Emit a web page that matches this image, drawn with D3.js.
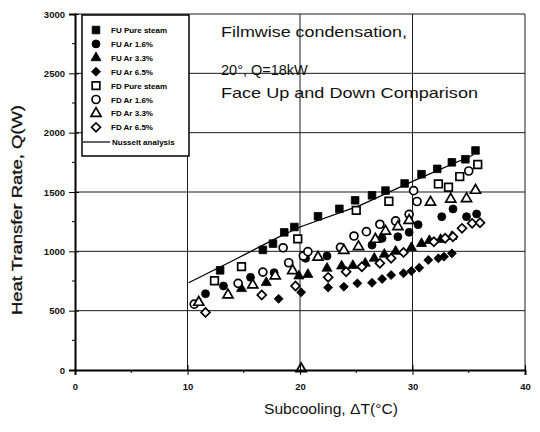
<!DOCTYPE html>
<html>
<head>
<meta charset="utf-8">
<script src="https://cdnjs.cloudflare.com/ajax/libs/d3/7.8.5/d3.min.js"></script>
<style>
  body { margin: 0; background: #fff; }
  svg { display: block; font-family: Arial, "Liberation Sans", sans-serif; }
</style>
</head>
<body>
<svg id="chart" width="540" height="432"></svg>
<script>
// values: [subcooling dT (C), Q (W)]
const fuPure = [[12.9,840],[16.7,1012],[17.6,1065],[18.6,1160],[19.5,1205],[21.6,1295],[23.5,1358],[24.9,1430],[26.4,1472],[27.6,1512],[29.3,1572],[30.8,1650],[32.2,1695],[33.5,1750],[34.7,1776],[35.6,1850]]
const fuAr16 = [[11.6,643],[13.2,708],[15.6,781],[17.7,820],[20.5,941],[22.4,961],[26.4,1053],[27.3,1110],[28.7,1123],[29.7,1160],[30.5,1225],[32.6,1292],[33.6,1357],[34.8,1292],[35.7,1315]]
const fuAr33 = [[14.8,685],[17.0,736],[19.9,792],[20.7,805],[22.4,857],[23.7,876],[24.7,880],[25.8,899],[26.6,941],[27.5,975],[28.5,1000],[29.9,1031],[30.8,1065],[31.5,1090],[32.5,1100],[33.5,1125]]
const fuAr65 = [[18.1,600],[20.1,655],[22.5,695],[23.9,702],[25.1,730],[26.4,735],[27.3,767],[28.1,800],[29.2,815],[29.9,834],[30.6,862],[31.4,927],[32.3,941],[32.8,955],[33.5,983]]
const fdPure = [[12.4,752],[14.8,871],[19.8,1105],[25.0,1345],[27.9,1422],[32.3,1568],[33.2,1540],[34.2,1630],[35.8,1732]]
const fdAr16 = [[10.6,555],[14.5,730],[16.7,825],[18.5,1030],[19.0,904],[20.3,961],[20.7,997],[23.6,1034],[24.8,1129],[25.9,1166],[27.1,1228],[28.5,1256],[29.7,1312],[30.1,1511],[30.4,1420],[35.0,1677]]
const fdAr33 = [[11.0,570],[13.6,632],[15.8,716],[17.8,792],[19.35,837],[20.1,10],[21.6,950],[23.9,1008],[25.2,1039],[26.7,1101],[27.6,1170],[28.7,1208],[29.7,1260],[31.6,1414],[33.4,1440],[34.8,1444],[35.6,1514]]
const fdAr65 = [[11.6,485],[16.6,632],[19.6,708],[22.5,781],[24.1,828],[25.5,870],[27.1,899],[28.1,941],[29.2,991],[31.9,1081],[32.9,1110],[33.6,1123],[34.4,1194],[35.3,1236],[36.0,1241]]
const nusselt = [[10.1,735],[14.1,925],[18.0,1115],[20.0,1205],[25.3,1385],[30.1,1593],[35.4,1812]]

const seriesNames = ["FU Pure steam","FU Ar 1.6%","FU Ar 3.3%","FU Ar 6.5%","FD Pure steam","FD Ar 1.6%","FD Ar 3.3%","FD Ar 6.5%"]
const xTicks = [0, 10, 20, 30, 40]
const yTicks = [0, 500, 1000, 1500, 2000, 2500, 3000]
const notes = ["Filmwise condensation,", "20\u00b0, Q=18kW", "Face Up and Down Comparison"]

const svg = d3.select("#chart")
const margin = {top: 14, right: 15, bottom: 62, left: 75}
const W = 540, H = 432

const x = d3.scaleLinear().domain([0, 40]).range([margin.left, W - margin.right])
const y = d3.scaleLinear().domain([0, 3000]).range([H - margin.bottom, margin.top])

// shape, filled?
const styles = [
  {shape: "square", fill: true}, {shape: "circle", fill: true},
  {shape: "triangle", fill: true}, {shape: "diamond", fill: true},
  {shape: "square", fill: false}, {shape: "circle", fill: false},
  {shape: "triangle", fill: false}, {shape: "diamond", fill: false}
]
const allSeries = [fuPure, fuAr16, fuAr33, fuAr65, fdPure, fdAr16, fdAr33, fdAr65]

function symbolPath(shape) {
  if (shape == "square") return d3.symbol(d3.symbolSquare, 58)()
  if (shape == "circle") return d3.symbol(d3.symbolCircle, 50)()
  if (shape == "triangle") return d3.symbol(d3.symbolTriangle, 44)()
  return d3.symbol(d3.symbolSquare, 40)()
}
function drawMarker(g, st) {
  g.append("path")
    .attr("d", symbolPath(st.shape))
    .attr("transform", st.shape == "diamond" ? "rotate(45)" : null)
    .attr("fill", st.fill ? "#000" : "#fff")
    .attr("stroke", "#000")
    .attr("stroke-width", st.fill ? 0.8 : 1.7)
}

// grid
svg.append("g").selectAll("line.h")
  .data(yTicks.slice(1))
  .join("line")
  .attr("x1", x(0)).attr("x2", x(40))
  .attr("y1", d => y(d)).attr("y2", d => y(d))
  .attr("stroke", "#1a1a1a").attr("stroke-width", 1)
svg.append("g").selectAll("line.v")
  .data(xTicks.slice(1))
  .join("line")
  .attr("x1", d => x(d)).attr("x2", d => x(d))
  .attr("y1", y(0)).attr("y2", y(3000))
  .attr("stroke", "#1a1a1a").attr("stroke-width", 1)

// notes
const noteY = [37, 75, 98]
const noteW = [186, 0, 257]
notes.forEach((t, i) => {
  const tx = svg.append("text")
    .attr("x", 221).attr("y", noteY[i])
    .attr("font-size", 14.5)
    .attr("fill", "#111")
    .text(t)
  if (noteW[i]) tx.attr("textLength", noteW[i]).attr("lengthAdjust", "spacingAndGlyphs")
})

// Nusselt line
svg.append("path")
  .datum(nusselt)
  .attr("d", d3.line().x(d => x(d[0])).y(d => y(d[1])))
  .attr("fill", "none")
  .attr("stroke", "#000")
  .attr("stroke-width", 1.3)

// markers
allSeries.forEach((data, i) => {
  const g = svg.append("g")
  data.forEach(d => {
    const m = g.append("g").attr("transform", `translate(${x(d[0])},${y(d[1])})`)
    drawMarker(m, styles[i])
  })
})

// axes
const yAxis = svg.append("g")
  .attr("transform", `translate(${x(0)},0)`)
  .call(d3.axisLeft(y).tickValues(yTicks).tickSize(6).tickPadding(4).tickFormat(d3.format("d")))
yAxis.select(".domain").attr("stroke-width", 2)
yAxis.selectAll(".tick line").attr("x2", -6).attr("x1", 4)
yAxis.selectAll(".tick text").attr("font-size", 9.5).attr("font-weight", "bold").attr("fill", "#111")
yAxis.selectAll(".minor")
  .data(d3.range(250, 3000, 500))
  .join("line")
  .attr("x1", -3).attr("x2", 0)
  .attr("y1", d => y(d)).attr("y2", d => y(d))
  .attr("stroke", "#000")

const xAxis = svg.append("g")
  .attr("transform", `translate(0,${y(0)})`)
  .call(d3.axisBottom(x).tickValues(xTicks).tickSize(5).tickPadding(8))
xAxis.select(".domain").attr("stroke-width", 2)
xAxis.selectAll(".tick line").attr("y1", -5).attr("y2", 5)
xAxis.selectAll(".tick text").attr("font-size", 9.5).attr("font-weight", "bold").attr("fill", "#111")
xAxis.selectAll(".minor")
  .data(d3.range(5, 40, 10))
  .join("line")
  .attr("x1", d => x(d)).attr("x2", d => x(d))
  .attr("y1", 0).attr("y2", 3)
  .attr("stroke", "#000")

// axis titles
svg.append("text")
  .attr("transform", `translate(22,${(y(0) + y(3000)) / 2 + 18}) rotate(-90)`)
  .attr("text-anchor", "middle")
  .attr("font-size", 14)
  .attr("textLength", 210).attr("lengthAdjust", "spacingAndGlyphs")
  .attr("fill", "#111")
  .attr("stroke", "#111").attr("stroke-width", 0.3)
  .text("Heat Transfer Rate, Q(W)")

svg.append("text")
  .attr("x", 331).attr("y", 414)
  .attr("text-anchor", "middle")
  .attr("font-size", 14)
  .attr("textLength", 134).attr("lengthAdjust", "spacingAndGlyphs")
  .attr("fill", "#111")
  .text("Subcooling, \u0394T(\u00b0C)")

// legend
const lg = svg.append("g")
lg.append("rect")
  .attr("x", 82).attr("y", 15).attr("width", 107).attr("height", 141)
  .attr("fill", "#fff").attr("stroke", "#000").attr("stroke-width", 1.5)
seriesNames.forEach((name, i) => {
  const yy = 30 + i * 13.9
  const m = lg.append("g").attr("transform", `translate(96,${yy})`)
  drawMarker(m, styles[i])
  lg.append("text")
    .attr("x", 111).attr("y", yy + 3)
    .attr("font-size", 8).attr("font-weight", "bold")
    .text(name)
})
lg.append("line")
  .attr("x1", 83).attr("x2", 110).attr("y1", 142).attr("y2", 142)
  .attr("stroke", "#000").attr("stroke-width", 1.2)
lg.append("text")
  .attr("x", 112).attr("y", 145)
  .attr("font-size", 8).attr("font-weight", "bold")
  .text("Nusselt analysis")
</script>
</body>
</html>
